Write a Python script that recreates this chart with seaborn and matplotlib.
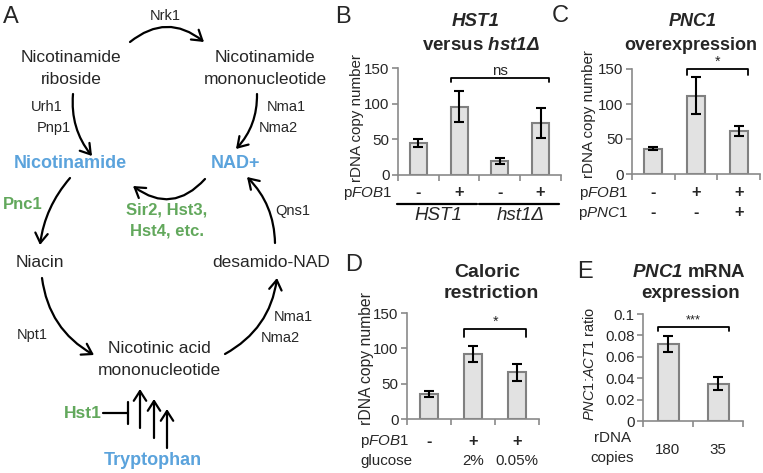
import numpy as np
import matplotlib
matplotlib.use('Agg')
import matplotlib.pyplot as plt
from matplotlib import font_manager
import seaborn as sns

## values
# B: HST1 versus hst1 deletion
b_groups = ['HST1 -', 'HST1 +', 'hst1 -', 'hst1 +']
b_fob1 = ['-', '+', '-', '+']
b_mean = [45, 96, 20, 73]
b_err = [6, 22, 4, 21]
b_strains = ['HST1', 'hst1Δ']

# C: PNC1 overexpression
c_groups = ['vector', 'FOB1', 'FOB1 PNC1']
c_fob1 = ['-', '+', '+']
c_pnc1 = ['-', '-', '+']
c_mean = [36, 112, 61]
c_err = [2, 27, 7]

# D: caloric restriction
d_groups = ['vector', 'FOB1 2%', 'FOB1 0.05%']
d_fob1 = ['-', '+', '+']
d_glucose = ['', '2%', '0.05%']
d_mean = [35, 92, 66]
d_err = [4, 12, 12]

# E: PNC1 mRNA expression
e_copies = ['180', '35']
e_ratio = [0.072, 0.035]
e_err = [0.0075, 0.006]

rdna_ticks = [0, 50, 100, 150]
rdna_ticklabels = ['0', '50', '100', '150']
ratio_ticks = [0, 0.02, 0.04, 0.06, 0.08, 0.1]
ratio_ticklabels = ['0', '0.02', '0.04', '0.06', '0.08', '0.1']

W, H = 763, 473
BLUE = '#5ba3dc'
GREEN = '#62a85c'
BAR = '#e2e2e2'
EDGE = '#808080'
AXC = '#8a8a8a'

sns.set_theme(style='white')
avail = {f.name for f in font_manager.fontManager.ttflist}
if 'Liberation Sans Narrow' in avail:
    NARROW, NSCALE = 'Liberation Sans Narrow', 1.0
else:
    NARROW, NSCALE = 'Liberation Sans', 0.84
plt.rcParams['font.family'] = ['Liberation Sans', 'DejaVu Sans']
plt.rcParams['mathtext.fontset'] = 'custom'
plt.rcParams['mathtext.rm'] = NARROW
plt.rcParams['mathtext.it'] = NARROW + ':italic'
plt.rcParams['mathtext.bf'] = 'Liberation Sans:bold:italic'


def nf(size):
    return dict(family=[NARROW, 'DejaVu Sans'], fontsize=size * NSCALE)


fig = plt.figure(figsize=(W / 100, H / 100), dpi=100)

## panel A: pathway diagram drawn on an overlay in pixel coordinates
axA = fig.add_axes([0, 0, 1, 1])
axA.set_xlim(0, W)
axA.set_ylim(H, 0)
axA.axis('off')


def t(x, y, s, size=12.5, **kw):
    axA.text(x, y, s, ha='center', va='center', fontsize=size, **kw)


def arrow(p0, p1, rad):
    axA.annotate('', xy=p1, xytext=p0,
                 arrowprops=dict(arrowstyle='->,head_length=0.5,head_width=0.32',
                                 connectionstyle='arc3,rad=%s' % rad, lw=1.6,
                                 color='black', shrinkA=0, shrinkB=0, mutation_scale=14))


t(11, 17, 'A', 17)
t(71, 58, 'Nicotinamide')
t(71, 80, 'riboside')
t(265, 58, 'Nicotinamide')
t(265, 80, 'mononucleotide')
t(165, 16, 'Nrk1', 10.5)
arrow((130, 42), (204, 42), -0.4)

t(47, 107, 'Urh1', 10.5)
t(54, 128, 'Pnp1', 10.5)
arrow((73, 94), (92, 156), 0.2)
t(286, 107, 'Nma1', 10.5)
t(278, 128, 'Nma2', 10.5)
arrow((257, 94), (236, 149), -0.2)

t(70, 163, 'Nicotinamide', 13, color=BLUE, fontweight='bold')
t(236, 163, 'NAD+', 13, color=BLUE, fontweight='bold')
arrow((205, 179), (133, 186), -0.45)
t(167, 210, 'Sir2, Hst3,', 12, color=GREEN, fontweight='bold')
t(167, 231, 'Hst4, etc.', 12, color=GREEN, fontweight='bold')

t(23, 204, 'Pnc1', 12, color=GREEN, fontweight='bold')
arrow((70, 178), (40, 245), 0.15)
t(40, 262, 'Niacin')
t(32, 335, 'Npt1', 10.5)
arrow((42, 278), (94, 355), 0.25)
t(159, 348, 'Nicotinic acid')
t(159, 370, 'mononucleotide')

t(271, 262, 'desamido-NAD')
t(293, 211, 'Qns1', 10.5)
arrow((275, 243), (247, 177), 0.2)
t(293, 317, 'Nma1', 10.5)
t(280, 338, 'Nma2', 10.5)
arrow((225, 354), (277, 278), 0.25)

for x, y0 in [(140, 428), (154, 438), (167, 448)]:
    arrow((x, y0), (x, y0 - 39), 0)
axA.plot([103, 128], [413, 413], color='black', lw=1.6)
axA.plot([128, 128], [402, 424], color='black', lw=1.6)
t(83, 413, 'Hst1', 12.5, color=GREEN, fontweight='bold')
t(153, 460, 'Tryptophan', 13, color=BLUE, fontweight='bold')


## bar panels
def px_axes(left, top, right, bottom):
    return fig.add_axes([left / W, 1 - bottom / H, (right - left) / W, (bottom - top) / H])


def bar_panel(ax, groups, vals, errs, ymax, ticks, ticklabels):
    n = len(groups)
    sns.barplot(x=groups, y=vals, order=groups, ax=ax, color=BAR, edgecolor=EDGE,
                linewidth=1.5, width=0.42, errorbar=None, saturation=1)
    ax.errorbar(np.arange(n), vals, yerr=errs, fmt='none', ecolor='black',
                elinewidth=1.5, capsize=3.5, capthick=1.5)
    ax.set_ylim(0, ymax)
    ax.set_xlim(-0.5, n - 0.5)
    ax.set_yticks(ticks)
    ax.set_yticklabels(ticklabels, **nf(13))
    ax.set_xticks(np.arange(n + 1) - 0.5)
    ax.set_xticklabels([])
    ax.tick_params(axis='both', direction='out', length=4, width=1.2, color=AXC,
                   pad=2, left=True, bottom=True)
    ax.set_xlabel('')
    ax.set_ylabel('')
    sns.despine(ax=ax)
    for s in ['left', 'bottom']:
        ax.spines[s].set_color(AXC)
        ax.spines[s].set_linewidth(1.2)
    ax.patch.set_alpha(0)


def bracket(ax, i, j, y, drop, label, size=12):
    x0, x1 = i - 0.21, j + 0.21
    ax.plot([x0, x0, x1, x1], [y - drop, y, y, y - drop], color='black', lw=1.3, clip_on=False)
    ax.text((x0 + x1) / 2, y, label, ha='center', va='bottom', clip_on=False, **nf(size))


def row(ax, labels, dy, bold=True, size=14, **kw):
    for i, lab in enumerate(labels):
        ax.annotate(lab, xy=(i, 0), xycoords=('data', 'axes fraction'), xytext=(0, -dy),
                    textcoords='offset pixels', ha='center', va='center',
                    fontweight='bold' if bold else 'normal', **nf(size), **kw)


def row_name(ax, name, dx, dy, ha='right', size=13):
    ax.annotate(name, xy=(0, 0), xycoords='axes fraction', xytext=(dx, -dy),
                textcoords='offset pixels', ha=ha, va='center', **nf(size))


def ylab(x, y, s, size=13):
    axA.text(x, y, s, rotation=90, ha='center', va='center', **nf(size))


# B
axB = px_axes(398, 68, 561, 175)
bar_panel(axB, b_groups, b_mean, b_err, 150, rdna_ticks, rdna_ticklabels)
bracket(axB, 1, 3, 136, 6, 'ns', 13)
row(axB, b_fob1, 18)
row_name(axB, r'p$\mathit{FOB1}$', -6, 18)
trans = axB.get_xaxis_transform()
for k, name in enumerate(b_strains):
    a, b = 2 * k, 2 * k + 1
    axB.plot([a - 0.52, b + 0.45], [-29 / 107] * 2, transform=trans, color='black',
             lw=1.6, clip_on=False)
    axB.annotate(name, xy=((a + b) / 2, 0), xycoords=('data', 'axes fraction'),
                 xytext=(0, -41), textcoords='offset pixels', ha='center', va='center',
                 fontstyle='italic', fontsize=13.5)
t(343, 17, 'B', 17)
t(476, 22, 'HST1', 13.5, fontweight='bold', fontstyle='italic')
t(481, 46, r'versus $\mathbf{hst1\Delta}$', 13.5, fontweight='bold')
ylab(357, 118, 'rDNA copy number')

# C
axC = px_axes(632, 69, 760, 174)
bar_panel(axC, c_groups, c_mean, c_err, 150, rdna_ticks, rdna_ticklabels)
bracket(axC, 1, 2, 150, 9, '*', 12)
row(axC, c_fob1, 19)
row(axC, c_pnc1, 39)
row_name(axC, r'p$\mathit{FOB1}$', -4, 19)
row_name(axC, r'p$\mathit{PNC1}$', -4, 39)
t(560, 16, 'C', 17)
t(693, 22, 'PNC1', 13, fontweight='bold', fontstyle='italic')
t(691, 46, 'overexpression', 13, fontweight='bold')
ylab(589, 114, 'rDNA copy number')

# D
axD = px_axes(407, 313, 539, 419)
bar_panel(axD, d_groups, d_mean, d_err, 150, rdna_ticks, rdna_ticklabels)
bracket(axD, 1, 2, 127, 11, '*', 12)
row(axD, d_fob1, 22)
row(axD, d_glucose, 42, bold=False, size=13)
row_name(axD, r'p$\mathit{FOB1}$', -47, 22, ha='left')
row_name(axD, 'glucose', -47, 42, ha='left')
t(354, 265, 'D', 17)
t(487, 272, 'Caloric', 14, fontweight='bold')
t(491, 293, 'restriction', 14, fontweight='bold')
ylab(366, 358, 'rDNA copy number', 13.5)

# E
axE = px_axes(643, 314, 743, 421)
bar_panel(axE, e_copies, e_ratio, e_err, 0.1, ratio_ticks, ratio_ticklabels)
bracket(axE, 0, 1, 0.088, 0.004, '***', 11)
row(axE, e_copies, 29, bold=False, size=13)
row_name(axE, 'rDNA', -30, 17, ha='center')
row_name(axE, 'copies', -31, 37, ha='center')
t(585, 272, 'E', 17)
t(689, 272, r'$\mathbf{PNC1}$ mRNA', 13.5, fontweight='bold')
t(691, 293, 'expression', 13.5, fontweight='bold')
ylab(590, 364, r'$\mathit{PNC1}$:$\mathit{ACT1}$ ratio', 12.5)

fig.savefig('out.png', dpi=100)
